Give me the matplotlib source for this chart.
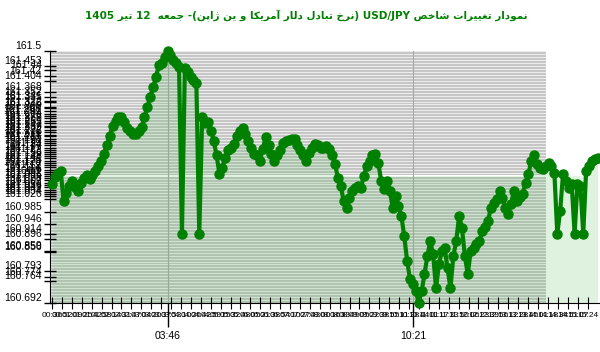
import matplotlib
matplotlib.use('Agg')
import matplotlib.pyplot as plt
import numpy as np
import re

# USD/JPY price samples (in order)
prices = [
    161.074, 161.097, 161.110, 161.116, 161.019, 161.045, 161.068, 161.084, 161.065, 161.052,
    161.077, 161.094, 161.103, 161.090, 161.103, 161.116, 161.132, 161.148, 161.171, 161.197,
    161.229, 161.261, 161.277, 161.287, 161.287, 161.271, 161.252, 161.245, 161.235, 161.235,
    161.245, 161.255, 161.287, 161.319, 161.352, 161.384, 161.416, 161.455, 161.461, 161.481,
    161.500, 161.487, 161.471, 161.461, 161.448, 160.914, 161.445, 161.432, 161.416, 161.406,
    161.397, 160.914, 161.287, 161.268, 161.271, 161.245, 161.213, 161.165, 161.106, 161.126,
    161.158, 161.181, 161.190, 161.203, 161.229, 161.242, 161.252, 161.235, 161.213, 161.190,
    161.171, 161.165, 161.148, 161.187, 161.223, 161.197, 161.171, 161.148, 161.165, 161.181,
    161.206, 161.213, 161.216, 161.219, 161.219, 161.197, 161.181, 161.165, 161.148, 161.174,
    161.190, 161.203, 161.197, 161.190, 161.190, 161.194, 161.187, 161.165, 161.139, 161.094,
    161.068, 161.019, 160.997, 161.029, 161.052, 161.061, 161.068, 161.061, 161.100, 161.132,
    161.148, 161.165, 161.171, 161.142, 161.084, 161.058, 161.084, 161.052, 160.997, 161.035,
    161.003, 160.971, 160.906, 160.826, 160.768, 160.752, 160.729, 160.692, 160.729, 160.784,
    160.842, 160.890, 160.848, 160.739, 160.816, 160.858, 160.868, 160.803, 160.739, 160.842,
    160.890, 160.971, 160.932, 160.842, 160.784, 160.858, 160.868, 160.881, 160.890, 160.923,
    160.935, 160.955, 160.997, 161.013, 161.026, 161.052, 161.029, 160.997, 160.977, 161.010,
    161.052, 161.019, 161.032, 161.042, 161.077, 161.106, 161.148, 161.165, 161.139, 161.126,
    161.123, 161.132, 161.142, 161.132, 161.110, 160.914, 160.987, 161.106, 161.084, 161.061,
    161.074, 160.914, 161.074, 161.068, 160.914, 161.116, 161.132, 161.148, 161.155, 161.158,
]

major_pos = [40, 125]
major_labels = ['03:46', '10:21']

minor_labels = [
    '00:36', '00:52', '01:09', '01:25', '01:42', '01:58', '02:14', '02:31', '02:47', '03:04',
    '03:20', '03:37', '03:53', '04:10', '04:26', '04:42', '04:59', '05:15', '05:32', '05:48',
    '06:05', '06:21', '06:38', '06:54', '07:10', '07:27', '07:43', '08:00', '08:16', '08:33',
    '08:49', '09:05', '09:22', '09:38', '09:55', '10:11', '10:28', '10:44', '11:01', '11:17',
    '11:33', '11:50', '12:06', '12:23', '12:39', '12:56', '13:12', '13:28', '13:45', '14:01',
    '14:18', '14:34', '14:51', '15:07', '15:24',
]

ytick_values = [
    160.692, 160.764, 160.774, 160.793, 160.856, 160.859, 160.896, 160.914, 160.946, 160.985,
    161.026, 161.034, 161.041, 161.049, 161.055, 161.063, 161.07, 161.078, 161.085, 161.092,
    161.1, 161.106, 161.113, 161.12, 161.128, 161.135, 161.141, 161.148, 161.156, 161.163,
    161.17, 161.177, 161.184, 161.19, 161.197, 161.205, 161.211, 161.219, 161.226, 161.232,
    161.239, 161.247, 161.255, 161.261, 161.268, 161.276, 161.284, 161.291, 161.298, 161.309,
    161.316, 161.322, 161.335, 161.341, 161.352, 161.368, 161.404, 161.42, 161.44, 161.453,
    161.5,
]

session_end = 171      # last sample of the shaded session
base_price = 161.10

title = 'نمودار تغییرات شاخص USD/JPY (نرخ تبادل دلار آمریکا و ین ژاپن)- جمعه  12 تیر 1405'

# isolated, final, initial, medial ; None -> letter does not join forward
FORMS = {
    'ا': ('\uFE8D', '\uFE8E', None, None), 'آ': ('\uFE81', '\uFE82', None, None),
    'ب': ('\uFE8F', '\uFE90', '\uFE91', '\uFE92'), 'پ': ('\uFB56', '\uFB57', '\uFB58', '\uFB59'),
    'ت': ('\uFE95', '\uFE96', '\uFE97', '\uFE98'), 'ج': ('\uFE9D', '\uFE9E', '\uFE9F', '\uFEA0'),
    'خ': ('\uFEA5', '\uFEA6', '\uFEA7', '\uFEA8'), 'د': ('\uFEA9', '\uFEAA', None, None),
    'ر': ('\uFEAD', '\uFEAE', None, None), 'ژ': ('\uFB8A', '\uFB8B', None, None),
    'ش': ('\uFEB5', '\uFEB6', '\uFEB7', '\uFEB8'), 'ص': ('\uFEB9', '\uFEBA', '\uFEBB', '\uFEBC'),
    'ع': ('\uFEC9', '\uFECA', '\uFECB', '\uFECC'), 'غ': ('\uFECD', '\uFECE', '\uFECF', '\uFED0'),
    'ک': ('\uFB8E', '\uFB8F', '\uFB90', '\uFB91'), 'ل': ('\uFEDD', '\uFEDE', '\uFEDF', '\uFEE0'),
    'م': ('\uFEE1', '\uFEE2', '\uFEE3', '\uFEE4'), 'ن': ('\uFEE5', '\uFEE6', '\uFEE7', '\uFEE8'),
    'ه': ('\uFEE9', '\uFEEA', '\uFEEB', '\uFEEC'), 'و': ('\uFEED', '\uFEEE', None, None),
    'ی': ('\uFBFC', '\uFBFD', '\uFBFE', '\uFBFF'),
}


def shape_rtl(text):
    out = []
    n = len(text)
    for i, ch in enumerate(text):
        if ch not in FORMS:
            out.append(ch)
            continue
        prev = text[i - 1] if i > 0 else ''
        nxt = text[i + 1] if i < n - 1 else ''
        pj = prev in FORMS and FORMS[prev][2] is not None
        nj = nxt in FORMS and FORMS[ch][2] is not None
        iso, fin, ini, med = FORMS[ch]
        if pj and nj:
            out.append(med)
        elif nj:
            out.append(ini)
        elif pj:
            out.append(fin)
        else:
            out.append(iso)
    vis = ''.join(out)[::-1]
    vis = re.sub(r'[A-Za-z0-9/.]+', lambda m: m.group(0)[::-1], vis)
    vis = vis.translate(str.maketrans('()', ')('))
    return vis


x = np.arange(len(prices))
ymin, ymax = 160.692, 161.5

fig = plt.figure(figsize=(6, 3.52), dpi=100)
ax = fig.add_axes([50 / 600, 49 / 352, 550 / 600, 252 / 352])
x0, x1 = -0.7, len(prices) - 0.2
ax.set_xlim(x0, x1)
ax.set_ylim(ymin, ymax)

# grey session band with pale stripes
ax.axvspan(x0, session_end, color='#c6c6c6', lw=0, zorder=0)
ax.hlines(np.arange(ymin, ymax, 0.0095), x0, session_end, color='white', lw=0.6, alpha=0.8, zorder=0.5)
ax.hlines(base_price, x0, session_end, color='white', lw=1.5, zorder=0.6)
for p in major_pos:
    ax.axvline(p, color='#a8a8a8', lw=0.8, zorder=0.7)

ax.fill_between(x, ymin, np.maximum(prices, base_price), color='#44b044', alpha=0.17, lw=0, zorder=1)
ax.plot(x, prices, color='#008000', lw=3, marker='o', ms=6.5, zorder=3, clip_on=False)

# y axis
ax.set_yticks(ytick_values, ['{:g}'.format(v) for v in ytick_values])
ax.tick_params(axis='y', direction='inout', length=8, width=1, pad=2,
               labelsize=7.5, labelfontfamily='Liberation Sans')
for lab in ax.get_yticklabels():
    lab.set_verticalalignment('bottom')

# x axis
minor_pos = np.linspace(0, len(prices) - 4.5, len(minor_labels))
ax.set_xticks(minor_pos, minor_labels, minor=True)
ax.set_xticks(major_pos, major_labels)
ax.tick_params(axis='x', which='minor', direction='inout', length=9, width=0.8, pad=2,
               labelsize=6, labelcolor='black', labelfontfamily='Liberation Sans')
ax.tick_params(axis='x', which='major', direction='out', length=17, width=1, pad=3,
               labelsize=7.5, labelfontfamily='Liberation Sans')
ax.xaxis.get_major_ticks()[0].tick1line.set_color('#bbbbbb')

for s in ['top', 'right']:
    ax.spines[s].set_visible(False)

fig.text(0.51, 0.955, shape_rtl(title), ha='center', va='center', color='#008000',
         fontsize=7.5, fontweight='bold', family='DejaVu Sans')

plt.savefig('out.png', dpi=100)
